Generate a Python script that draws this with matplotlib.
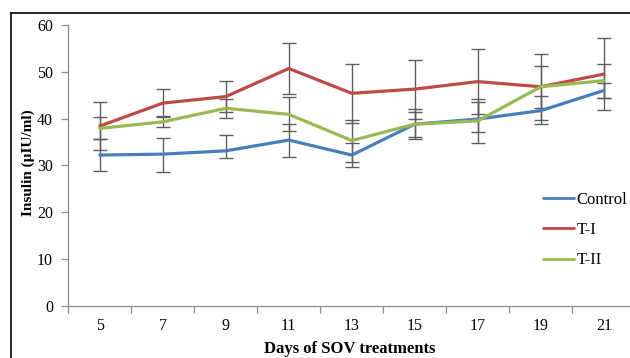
import matplotlib
matplotlib.use("Agg")
import matplotlib.pyplot as plt
import numpy as np
from matplotlib.lines import Line2D

plt.rcParams['font.family'] = ['Liberation Serif', 'DejaVu Serif']

days = ["5", "7", "9", "11", "13", "15", "17", "19", "21"]

control = [32.2, 32.4, 33.1, 35.4, 32.2, 38.8, 39.9, 41.7, 46.0]
control_err_lo = [3.35, 3.8, 1.6, 3.7, 2.5, 2.7, 2.7, 2.85, 1.5]
control_err_hi = [3.35, 3.4, 3.35, 3.4, 2.5, 2.7, 3.55, 3.2, 1.5]

t1 = [38.4, 43.3, 44.7, 50.7, 45.4, 46.3, 47.9, 46.8, 49.5]
t1_err = [5.1, 3.0, 3.4, 5.5, 6.3, 6.3, 6.9, 7.0, 7.7]

t2 = [37.9, 39.3, 42.2, 40.9, 35.3, 38.8, 39.5, 46.8, 48.1]
t2_err = [2.35, 1.15, 2.05, 3.65, 4.5, 3.2, 4.7, 4.45, 3.6]

series_names = ["Control", "T-I", "T-II"]
colors = ["#4A7EBB", "#BE4B48", "#98B954"]

W, H = 630, 358
fig = plt.figure(figsize=(W / 100, H / 100), dpi=100)
ax = fig.add_axes([68.3 / W, 1 - 305.7 / H, 567 / W, (305.7 - 25) / H])

x = np.arange(len(days))
err_kw = dict(fmt='none', ecolor='#5F5F5F', elinewidth=1.0, capsize=5, capthick=1.0, zorder=2)
ax.errorbar(x, control, yerr=[control_err_lo, control_err_hi], **err_kw)
ax.errorbar(x, t1, yerr=t1_err, **err_kw)
ax.errorbar(x, t2, yerr=t2_err, **err_kw)

for vals, name, c in zip([control, t1, t2], series_names, colors):
    ax.plot(x, vals, color=c, lw=2.3, label=name, zorder=3, solid_capstyle='round')

ax.set_xlim(-0.5, len(days) - 0.5)
ax.set_ylim(0, 60)
ax.set_yticks(np.arange(0, 61, 10))

ax.set_xticks(np.arange(-0.5, len(days), 1.0))
ax.set_xticklabels([])
ax.set_xticks(x, minor=True)
ax.set_xticklabels(days, minor=True)
ax.tick_params(axis='x', which='minor', length=0, pad=9, labelsize=11.5)
ax.tick_params(axis='x', which='major', length=5, color='#8C8C8C', width=0.9, direction='out')
ax.tick_params(axis='y', length=5, color='#8C8C8C', width=0.9, direction='out', pad=6, labelsize=11.5)

for s in ['top', 'right']:
    ax.spines[s].set_visible(False)
for s in ['left', 'bottom']:
    ax.spines[s].set_color('#8C8C8C')
    ax.spines[s].set_linewidth(0.9)

fig.text(350 / W, 1 - 349 / H, "Days of SOV treatments", ha='center', va='center',
         fontsize=12, fontweight='bold')
fig.text(28 / W, 1 - 163 / H, "Insulin (µIU/ml)", ha='center', va='center',
         rotation=90, fontsize=11, fontweight='bold')

leg = ax.legend(loc='center left', bbox_to_anchor=(542.7 / W, 1 - 230.3 / H),
                bbox_transform=fig.transFigure, frameon=False, fontsize=12,
                handlelength=1.9, handletextpad=0.15, labelspacing=0.85,
                borderpad=0, borderaxespad=0)
for ln in leg.get_lines():
    ln.set_linewidth(2.0)

fig.add_artist(Line2D([11 / W, 11 / W], [0, 1 - 13 / H], color='black', lw=1.2,
                      transform=fig.transFigure))
fig.add_artist(Line2D([11 / W, 1], [1 - 13 / H, 1 - 13 / H], color='black', lw=1.2,
                      transform=fig.transFigure))

fig.savefig("out.png", dpi=100)
